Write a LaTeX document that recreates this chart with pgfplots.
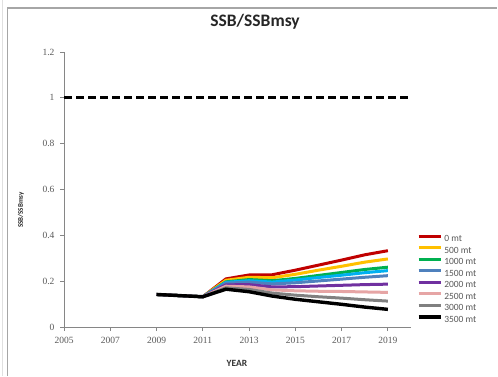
\documentclass[border=0pt]{standalone}
\usepackage{pgfplots}
\pgfplotsset{compat=1.18}
\usepackage{fontspec}
\setmainfont{Carlito}
\newfontfamily\tickfont{Liberation Serif}

\definecolor{axisgray}{HTML}{868686}
\definecolor{ticktext}{HTML}{595959}
\definecolor{cRed}{HTML}{C00000}
\definecolor{cYellow}{HTML}{FFC000}
\definecolor{cGreen}{HTML}{00B050}
\definecolor{cCyan}{HTML}{00B0F0}
\definecolor{cBlue}{HTML}{4F81BD}
\definecolor{cPurple}{HTML}{7030A0}
\definecolor{cPink}{HTML}{E6A5A5}
\definecolor{cGray}{HTML}{808080}

\begin{document}
\begin{tikzpicture}
\useasboundingbox (0pt,0pt) rectangle (498pt,376pt);
\fill[white] (0pt,0pt) rectangle (498pt,376pt);
% page frame
\draw[black!12, line width=1pt] (2.5pt,0pt) -- (2.5pt,376pt);
\draw[black!35, line width=1.2pt] (7.5pt,0pt) -- (7.5pt,368pt) -- (497pt,368pt);

\begin{axis}[
  at={(64pt,49pt)}, anchor=south west,
  scale only axis, width=347pt, height=275pt,
  xmin=2005, xmax=2020, ymin=0, ymax=1.2,
  axis x line=bottom, axis y line=left,
  axis line style={draw=axisgray, line width=0.8pt, -},
  xtick={2005,2007,2009,2011,2013,2015,2017,2019},
  ytick={0,0.2,0.4,0.6,0.8,1,1.2},
  tick align=outside, major tick length=4pt,
  tick style={draw=axisgray, line width=0.8pt},
  /pgf/number format/assume math mode=true,
  tick label style={font=\tickfont\fontsize{9.5}{11}\selectfont, text=ticktext},
  x tick label style={/pgf/number format/1000 sep={}, yshift=-3pt},
  y tick label style={xshift=-2pt},
  clip=false,
  legend cell align=left,
  legend style={draw=none, fill=none, at={(1.0164,0.34)}, anchor=north west,
    inner sep=0pt, column sep=2pt, row sep=0pt,
    font=\fontsize{9.5}{11.5}\selectfont, text=ticktext,
    nodes={inner sep=0pt, text height=8pt, text depth=3.5pt}},
  legend image code/.code={\draw[#1] (0pt,3pt) -- (22pt,3pt);},
]
% reference level SSB/SSBmsy = 1
\addplot[black, line width=2.8pt, dash pattern=on 8pt off 4pt, forget plot]
  coordinates {(2005,1) (2020,1)};

\addplot[cRed, line width=3pt] coordinates {
 (2009,0.142) (2010,0.137) (2011,0.132) (2012,0.210) (2013,0.227) (2014,0.228)
 (2015,0.248) (2016,0.270) (2017,0.292) (2018,0.315) (2019,0.333)};
\addlegendentry{0 mt}
\addplot[cYellow, line width=3pt] coordinates {
 (2009,0.142) (2010,0.137) (2011,0.132) (2012,0.204) (2013,0.217) (2014,0.215)
 (2015,0.230) (2016,0.248) (2017,0.265) (2018,0.283) (2019,0.297)};
\addlegendentry{500 mt}
\addplot[cGreen, line width=3pt] coordinates {
 (2009,0.142) (2010,0.137) (2011,0.132) (2012,0.197) (2013,0.207) (2014,0.202)
 (2015,0.212) (2016,0.225) (2017,0.238) (2018,0.251) (2019,0.261)};
\addlegendentry{1000 mt}
\addplot[cCyan, line width=3pt, forget plot] coordinates {
 (2009,0.142) (2010,0.137) (2011,0.132) (2012,0.195) (2013,0.202) (2014,0.196)
 (2015,0.205) (2016,0.216) (2017,0.226) (2018,0.237) (2019,0.246)};
\addplot[cBlue, line width=3pt] coordinates {
 (2009,0.142) (2010,0.137) (2011,0.132) (2012,0.191) (2013,0.196) (2014,0.188)
 (2015,0.193) (2016,0.201) (2017,0.209) (2018,0.217) (2019,0.224)};
\addlegendentry{1500 mt}
\addplot[cPurple, line width=3pt] coordinates {
 (2009,0.142) (2010,0.137) (2011,0.132) (2012,0.184) (2013,0.185) (2014,0.175)
 (2015,0.176) (2016,0.179) (2017,0.182) (2018,0.185) (2019,0.187)};
\addlegendentry{2000 mt}
\addplot[cPink, line width=3pt] coordinates {
 (2009,0.142) (2010,0.137) (2011,0.132) (2012,0.178) (2013,0.175) (2014,0.162)
 (2015,0.158) (2016,0.156) (2017,0.155) (2018,0.153) (2019,0.151)};
\addlegendentry{2500 mt}
\addplot[cGray, line width=3pt] coordinates {
 (2009,0.142) (2010,0.137) (2011,0.132) (2012,0.171) (2013,0.164) (2014,0.148)
 (2015,0.139) (2016,0.132) (2017,0.126) (2018,0.119) (2019,0.113)};
\addlegendentry{3000 mt}
\addplot[black, line width=3.4pt] coordinates {
 (2009,0.142) (2010,0.137) (2011,0.132) (2012,0.165) (2013,0.154) (2014,0.135)
 (2015,0.121) (2016,0.110) (2017,0.099) (2018,0.087) (2019,0.077)};
\addlegendentry{3500 mt}
\end{axis}

% titles
\node[anchor=base, font=\bfseries\fontsize{17.5}{20}\selectfont, text=black!85]
  at (255pt,349pt) {SSB/SSBmsy};
\node[anchor=base, font=\bfseries\fontsize{9.5}{11}\selectfont, text=black!80]
  at (237pt,10pt) {YEAR};
\node[rotate=90, font=\bfseries\fontsize{7}{8}\selectfont, text=black!85]
  at (21pt,166pt) {SSB/SSBmsy};
\end{tikzpicture}
\end{document}
